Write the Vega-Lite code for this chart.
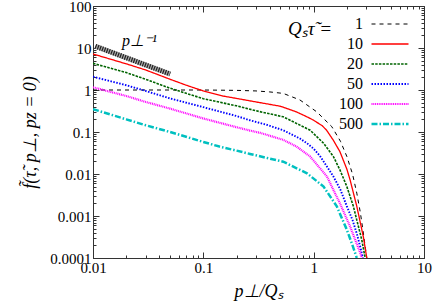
{
  "$schema": "https://vega.github.io/schema/vega-lite/v6.json",
  "autosize": "none",
  "width": 331,
  "height": 252,
  "padding": {"left": 93, "top": 6, "right": 12, "bottom": 46},
  "background": "white",
  "config": {
    "view": {"stroke": "#333", "strokeWidth": 1},
    "axis": {
      "grid": false,
      "domainColor": "#333",
      "tickColor": "#333",
      "labelFont": "Liberation Serif",
      "labelFontSize": 15,
      "labelColor": "#000",
      "titleFont": "Liberation Serif",
      "titleFontSize": 18,
      "titleFontWeight": "normal",
      "titleFontStyle": "italic",
      "titleColor": "#000"
    }
  },
  "datasets": {
    "curves": [
      {"tau": "1", "p": 0.01, "f": 1.0},
      {"tau": "1", "p": 0.1, "f": 1.0},
      {"tau": "1", "p": 0.2, "f": 0.98},
      {"tau": "1", "p": 0.3, "f": 0.95},
      {"tau": "1", "p": 0.4, "f": 0.9},
      {"tau": "1", "p": 0.53, "f": 0.83},
      {"tau": "1", "p": 0.75, "f": 0.58},
      {"tau": "1", "p": 1.07, "f": 0.3},
      {"tau": "1", "p": 1.46, "f": 0.134},
      {"tau": "1", "p": 1.75, "f": 0.06},
      {"tau": "1", "p": 2.0, "f": 0.026},
      {"tau": "1", "p": 2.25, "f": 0.01},
      {"tau": "1", "p": 2.46, "f": 0.0035},
      {"tau": "1", "p": 2.65, "f": 0.0012},
      {"tau": "1", "p": 2.8, "f": 0.00045},
      {"tau": "1", "p": 3.03, "f": 0.0001},
      {"tau": "10", "p": 0.01, "f": 7.2},
      {"tau": "10", "p": 0.02, "f": 4.2},
      {"tau": "10", "p": 0.03, "f": 3.0},
      {"tau": "10", "p": 0.05, "f": 1.8},
      {"tau": "10", "p": 0.07, "f": 1.3},
      {"tau": "10", "p": 0.1, "f": 0.95},
      {"tau": "10", "p": 0.15, "f": 0.72},
      {"tau": "10", "p": 0.2, "f": 0.63},
      {"tau": "10", "p": 0.3, "f": 0.52},
      {"tau": "10", "p": 0.5, "f": 0.41},
      {"tau": "10", "p": 0.7, "f": 0.3},
      {"tau": "10", "p": 0.9, "f": 0.22},
      {"tau": "10", "p": 1.0, "f": 0.19},
      {"tau": "10", "p": 1.2, "f": 0.14},
      {"tau": "10", "p": 1.31, "f": 0.11},
      {"tau": "10", "p": 1.5, "f": 0.065},
      {"tau": "10", "p": 1.73, "f": 0.034},
      {"tau": "10", "p": 2.0, "f": 0.013},
      {"tau": "10", "p": 2.14, "f": 0.0072},
      {"tau": "10", "p": 2.46, "f": 0.0017},
      {"tau": "10", "p": 2.82, "f": 0.00032},
      {"tau": "10", "p": 3.03, "f": 0.0001},
      {"tau": "20", "p": 0.01, "f": 4.3},
      {"tau": "20", "p": 0.02, "f": 2.6},
      {"tau": "20", "p": 0.03, "f": 1.8},
      {"tau": "20", "p": 0.05, "f": 1.1},
      {"tau": "20", "p": 0.1, "f": 0.62},
      {"tau": "20", "p": 0.2, "f": 0.42},
      {"tau": "20", "p": 0.3, "f": 0.32},
      {"tau": "20", "p": 0.53, "f": 0.23},
      {"tau": "20", "p": 0.7, "f": 0.16},
      {"tau": "20", "p": 0.93, "f": 0.11},
      {"tau": "20", "p": 1.23, "f": 0.054},
      {"tau": "20", "p": 1.51, "f": 0.026},
      {"tau": "20", "p": 1.73, "f": 0.0125},
      {"tau": "20", "p": 2.0, "f": 0.005},
      {"tau": "20", "p": 2.29, "f": 0.0017},
      {"tau": "20", "p": 2.46, "f": 0.0008},
      {"tau": "20", "p": 2.73, "f": 0.00027},
      {"tau": "20", "p": 2.93, "f": 0.0001},
      {"tau": "50", "p": 0.01, "f": 2.07},
      {"tau": "50", "p": 0.02, "f": 1.3},
      {"tau": "50", "p": 0.03, "f": 0.95},
      {"tau": "50", "p": 0.05, "f": 0.63},
      {"tau": "50", "p": 0.1, "f": 0.39},
      {"tau": "50", "p": 0.2, "f": 0.24},
      {"tau": "50", "p": 0.265, "f": 0.19},
      {"tau": "50", "p": 0.37, "f": 0.15},
      {"tau": "50", "p": 0.53, "f": 0.11},
      {"tau": "50", "p": 0.75, "f": 0.07},
      {"tau": "50", "p": 0.87, "f": 0.054},
      {"tau": "50", "p": 1.0, "f": 0.04},
      {"tau": "50", "p": 1.14, "f": 0.027},
      {"tau": "50", "p": 1.3, "f": 0.016},
      {"tau": "50", "p": 1.51, "f": 0.0087},
      {"tau": "50", "p": 1.75, "f": 0.0042},
      {"tau": "50", "p": 2.0, "f": 0.0017},
      {"tau": "50", "p": 2.25, "f": 0.0008},
      {"tau": "50", "p": 2.46, "f": 0.00038},
      {"tau": "50", "p": 2.65, "f": 0.00018},
      {"tau": "50", "p": 2.8, "f": 0.0001},
      {"tau": "100", "p": 0.01, "f": 1.16},
      {"tau": "100", "p": 0.02, "f": 0.72},
      {"tau": "100", "p": 0.03, "f": 0.52},
      {"tau": "100", "p": 0.05, "f": 0.36},
      {"tau": "100", "p": 0.1, "f": 0.21},
      {"tau": "100", "p": 0.2, "f": 0.13},
      {"tau": "100", "p": 0.265, "f": 0.108},
      {"tau": "100", "p": 0.33, "f": 0.095},
      {"tau": "100", "p": 0.53, "f": 0.065},
      {"tau": "100", "p": 0.7, "f": 0.045},
      {"tau": "100", "p": 0.93, "f": 0.026},
      {"tau": "100", "p": 1.32, "f": 0.0087},
      {"tau": "100", "p": 1.73, "f": 0.002},
      {"tau": "100", "p": 2.14, "f": 0.00056},
      {"tau": "100", "p": 2.65, "f": 0.00013},
      {"tau": "100", "p": 2.73, "f": 0.0001},
      {"tau": "500", "p": 0.01, "f": 0.35},
      {"tau": "500", "p": 0.02, "f": 0.2},
      {"tau": "500", "p": 0.03, "f": 0.145},
      {"tau": "500", "p": 0.05, "f": 0.1},
      {"tau": "500", "p": 0.1, "f": 0.058},
      {"tau": "500", "p": 0.14, "f": 0.045},
      {"tau": "500", "p": 0.2, "f": 0.036},
      {"tau": "500", "p": 0.265, "f": 0.03},
      {"tau": "500", "p": 0.53, "f": 0.0196},
      {"tau": "500", "p": 0.87, "f": 0.0104},
      {"tau": "500", "p": 1.23, "f": 0.005},
      {"tau": "500", "p": 1.62, "f": 0.0017},
      {"tau": "500", "p": 2.0, "f": 0.00047},
      {"tau": "500", "p": 2.25, "f": 0.0002},
      {"tau": "500", "p": 2.46, "f": 0.0001}
    ],
    "hatch": [
      {"p": 0.0105, "f": 11},
      {"p": 0.05, "f": 2.4}
    ],
    "note": [
      {"p": 0.0183, "f": 11, "label": "p⊥⁻¹"}
    ]
  },
  "resolve": {"axis": {"x": "independent", "y": "independent"}},
  "layer": [
    {
      "data": {"name": "curves"},
      "mark": {"type": "line", "clip": true},
      "encoding": {
        "x": {
          "field": "p", "type": "quantitative",
          "scale": {"type": "log", "domain": [0.01, 10], "nice": false},
          "axis": {
            "orient": "bottom",
            "title": "p⊥/Qₛ",
            "titlePadding": 4,
            "values": [0.01,0.02,0.03,0.04,0.05,0.06,0.07,0.08,0.09,0.1,0.2,0.3,0.4,0.5,0.6,0.7,0.8,0.9,1,2,3,4,5,6,7,8,9,10],
            "format": "~g",
            "labelExpr": "abs(log(datum.value)/LN10 - round(log(datum.value)/LN10)) < 1e-6 ? datum.label : ''",
            "tickSize": {"condition": {"test": "abs(log(datum.value)/LN10 - round(log(datum.value)/LN10)) < 1e-6", "value": -6}, "value": -3},
            "labelPadding": 8,
            "labelFlush": false,
            "labelOverlap": false
          }
        },
        "y": {
          "field": "f", "type": "quantitative",
          "scale": {"type": "log", "domain": [0.0001, 100], "nice": false},
          "axis": {
            "orient": "left",
            "title": "f̃(τ̃, p⊥, pz = 0)",
            "titlePadding": 10,
            "values": [0.0001,0.0002,0.0003,0.0004,0.0005,0.0006,0.0007,0.0008,0.0009,0.001,0.002,0.003,0.004,0.005,0.006,0.007,0.008,0.009,0.01,0.02,0.03,0.04,0.05,0.06,0.07,0.08,0.09,0.1,0.2,0.3,0.4,0.5,0.6,0.7,0.8,0.9,1,2,3,4,5,6,7,8,9,10,20,30,40,50,60,70,80,90,100],
            "format": "~g",
            "labelExpr": "abs(log(datum.value)/LN10 - round(log(datum.value)/LN10)) < 1e-6 ? datum.label : ''",
            "tickSize": {"condition": {"test": "abs(log(datum.value)/LN10 - round(log(datum.value)/LN10)) < 1e-6", "value": -6}, "value": -3},
            "labelPadding": 8,
            "labelFlush": false,
            "labelOverlap": false
          }
        },
        "color": {
          "field": "tau", "type": "nominal",
          "scale": {"domain": ["1","10","20","50","100","500"], "range": ["#000000","#ff0000","#006400","#0000ff","#ff00ff","#00c0c0"]},
          "legend": {
            "orient": "none",
            "legendX": 277,
            "legendY": 8.25,
            "padding": 0,
            "title": null,
            "labelExpr": "''",
            "labelOffset": 0,
            "symbolType": "stroke",
            "symbolSize": 1369,
            "clipHeight": 19.5,
            "rowPadding": 0
          }
        },
        "opacity": {
          "field": "tau", "type": "ordinal",
          "sort": ["1","10","20","50","100","500"],
          "scale": {"range": [1,1,1,1,1,1]},
          "legend": {
            "orient": "none",
            "legendX": 195,
            "legendY": 8.25,
            "padding": 0,
            "title": "Qₛτ̃ =",
            "titleOrient": "left",
            "titleAnchor": "start",
            "titleAngle": 0,
            "titleBaseline": "line-top",
            "titleLineHeight": 30,
            "titleFont": "Liberation Serif",
            "titleFontSize": 19,
            "titleFontStyle": "italic",
            "titleFontWeight": "normal",
            "titleColor": "#000",
            "titlePadding": -10,
            "labelAlign": "right",
            "labelOffset": 24,
            "labelFont": "Liberation Serif",
            "labelFontSize": 16,
            "labelColor": "#000",
            "symbolType": "stroke",
            "symbolSize": 0,
            "symbolStrokeWidth": 0,
            "symbolStrokeColor": "transparent",
            "symbolFillColor": "transparent",
            "clipHeight": 19.5,
            "rowPadding": 0
          }
        },
        "strokeDash": {
          "field": "tau", "type": "nominal",
          "scale": {"domain": ["1","10","20","50","100","500"], "range": [[4,4],[1,0],[2.5,1.2],[1.5,1.5],[1,0.8],[6,2,1.5,2]]}
        },
        "strokeWidth": {
          "field": "tau", "type": "nominal",
          "scale": {"domain": ["1","10","20","50","100","500"], "range": [1,2.5,2.5,2,2,2]}
        }
      }
    },
    {
      "data": {"name": "hatch"},
      "mark": {"type": "line", "color": "#aaaaaa", "strokeWidth": 5, "strokeCap": "butt"},
      "encoding": {
        "x": {"field": "p", "type": "quantitative", "axis": {"orient": "top", "labels": false, "title": null, "domain": false, "values": [0.01,0.02,0.03,0.04,0.05,0.06,0.07,0.08,0.09,0.1,0.2,0.3,0.4,0.5,0.6,0.7,0.8,0.9,1,2,3,4,5,6,7,8,9,10], "tickSize": {"condition": {"test": "abs(log(datum.value)/LN10 - round(log(datum.value)/LN10)) < 1e-6", "value": -6}, "value": -3}}},
        "y": {"field": "f", "type": "quantitative", "axis": {"orient": "right", "labels": false, "title": null, "domain": false, "values": [0.0001,0.0002,0.0003,0.0004,0.0005,0.0006,0.0007,0.0008,0.0009,0.001,0.002,0.003,0.004,0.005,0.006,0.007,0.008,0.009,0.01,0.02,0.03,0.04,0.05,0.06,0.07,0.08,0.09,0.1,0.2,0.3,0.4,0.5,0.6,0.7,0.8,0.9,1,2,3,4,5,6,7,8,9,10,20,30,40,50,60,70,80,90,100], "tickSize": {"condition": {"test": "abs(log(datum.value)/LN10 - round(log(datum.value)/LN10)) < 1e-6", "value": -6}, "value": -3}}}
      }
    },
    {
      "data": {"name": "hatch"},
      "mark": {"type": "line", "color": "#222222", "strokeWidth": 5, "strokeDash": [1.2, 1.2], "strokeCap": "butt"},
      "encoding": {
        "x": {"field": "p", "type": "quantitative", "axis": null},
        "y": {"field": "f", "type": "quantitative", "axis": null}
      }
    },
    {
      "data": {"name": "note"},
      "mark": {"type": "text", "align": "left", "baseline": "alphabetic", "font": "Liberation Serif", "fontSize": 16, "fontStyle": "italic", "color": "#000"},
      "encoding": {
        "x": {"field": "p", "type": "quantitative", "axis": null},
        "y": {"field": "f", "type": "quantitative", "axis": null},
        "text": {"field": "label"}
      }
    }
  ]
}
